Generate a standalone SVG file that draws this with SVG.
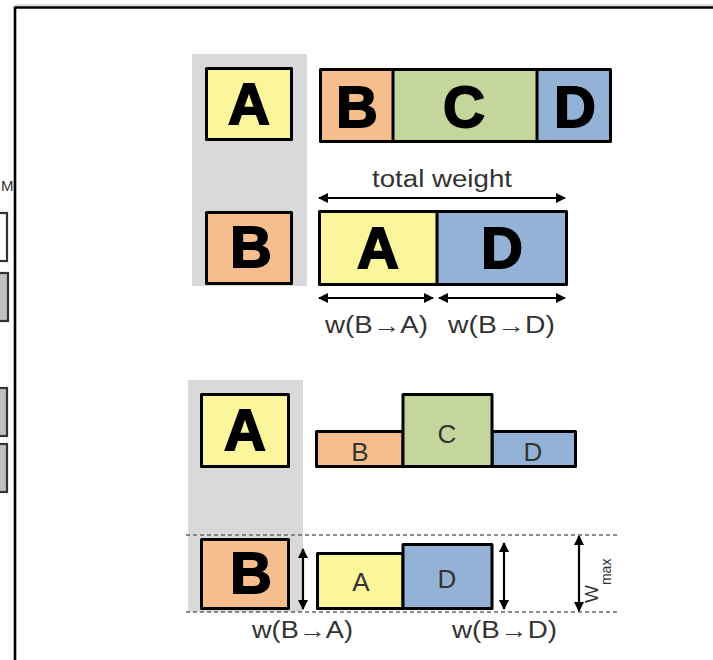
<svg xmlns="http://www.w3.org/2000/svg" width="713" height="660" viewBox="0 0 713 660">
<style>
.box{stroke:#000;stroke-width:3;stroke-linejoin:round}
.y{fill:#fbf59b}.o{fill:#f6be8d}.g{fill:#c4d69c}.b{fill:#93b2d6}
.big{font-family:"Liberation Sans",Arial,sans-serif;font-weight:bold;font-size:58px;text-anchor:middle;fill:#000;stroke:#000;stroke-width:1.8}
.sm{font-family:"Liberation Sans",Arial,sans-serif;font-size:26px;text-anchor:middle;fill:#333}
.lbl{font-family:"Liberation Sans",Arial,sans-serif;font-size:23px;fill:#333}
.arr{stroke:#000;stroke-width:2.2;fill:none;marker-start:url(#ah);marker-end:url(#ah)}
.dash{stroke:#666;stroke-width:1.6;stroke-dasharray:4 3;fill:none}
.gray{fill:#d9d9d9}
</style>
<defs>
<marker id="ah" viewBox="0 0 10 10" refX="9" refY="5" markerWidth="11" markerHeight="10" markerUnits="userSpaceOnUse" orient="auto-start-reverse">
<path d="M0,0 L10,5 L0,10 Z" fill="#000"/>
</marker>
</defs>
<rect width="713" height="660" fill="#fff"/>
<g id="frame">
<line x1="15" y1="5" x2="713" y2="5" stroke="#ddd" stroke-width="2"/>
<line x1="15" y1="7.5" x2="713" y2="7.5" stroke="#000" stroke-width="2.6"/>
<line x1="15" y1="6.5" x2="15" y2="660" stroke="#000" stroke-width="2.6"/>
</g>
<g id="left-partial">
<text x="1" y="191" font-family="Liberation Sans,Arial,sans-serif" font-size="15" fill="#333">M</text>
<rect x="-10" y="213" width="17" height="48" fill="#fff" stroke="#333" stroke-width="2.2"/>
<rect x="-10" y="273" width="18" height="48" fill="#c0c0c0" stroke="#333" stroke-width="2.2"/>
<rect x="-10" y="388" width="17" height="48" fill="#c0c0c0" stroke="#333" stroke-width="2.2"/>
<rect x="-10" y="444" width="17" height="48" fill="#c0c0c0" stroke="#333" stroke-width="2.2"/>
</g>
<rect class="gray" x="192" y="54" width="115" height="232"/>
<rect class="gray" x="188" y="380" width="115" height="232"/>
<g id="top-A">
<rect class="box y" x="206.5" y="68.5" width="85" height="71"/>
<text class="big" x="249" y="124">A</text>
</g>
<g id="top-B">
<rect class="box o" x="206.5" y="212.5" width="85" height="71"/>
<text class="big" x="251" y="267">B</text>
</g>
<g id="bar-BCD">
<rect class="o" x="320.5" y="69.5" width="72.5" height="72"/>
<rect class="g" x="393" y="69.5" width="144" height="72"/>
<rect class="b" x="537" y="69.5" width="73.5" height="72"/>
<rect class="box" x="320.5" y="69.5" width="290" height="72" fill="none"/>
<line x1="393" y1="69.5" x2="393" y2="141.5" stroke="#000" stroke-width="3"/>
<line x1="537" y1="69.5" x2="537" y2="141.5" stroke="#000" stroke-width="3"/>
<text class="big" x="357" y="127">B</text>
<text class="big" x="464" y="127">C</text>
<text class="big" x="575" y="127">D</text>
</g>
<g id="bar-AD">
<rect class="y" x="319.5" y="211.5" width="117.5" height="73"/>
<rect class="b" x="437" y="211.5" width="129.5" height="73"/>
<rect class="box" x="319.5" y="211.5" width="247" height="73" fill="none"/>
<line x1="437" y1="211.5" x2="437" y2="284.5" stroke="#000" stroke-width="3"/>
<text class="big" x="378" y="268">A</text>
<text class="big" x="502" y="268">D</text>
</g>
<g id="bot-A">
<rect class="box y" x="201.5" y="394.5" width="87" height="72"/>
<text class="big" x="245" y="450">A</text>
</g>
<g id="bot-B">
<rect class="box o" x="201.5" y="539.5" width="87" height="69"/>
<text class="big" x="251" y="593">B</text>
</g>
<g id="bars-row3">
<rect class="box o" x="316.5" y="431.5" width="86.5" height="35"/>
<rect class="box b" x="492" y="431.5" width="83.5" height="35"/>
<rect class="box g" x="403" y="394.5" width="89" height="72"/>
<text class="sm" x="360" y="461">B</text>
<text class="sm" x="447" y="443">C</text>
<text class="sm" x="533" y="461">D</text>
</g>
<g id="bars-row4">
<rect class="box y" x="317.5" y="553.5" width="85.5" height="55"/>
<rect class="box b" x="403" y="544.5" width="89" height="64"/>
<text class="sm" x="361" y="591">A</text>
<text class="sm" x="447" y="588">D</text>
</g>
<g id="connectors">
<line class="arr" x1="319" y1="198" x2="565" y2="198"/>
<line class="arr" x1="319" y1="298" x2="433" y2="298"/>
<line class="arr" x1="439" y1="298" x2="565" y2="298"/>
<line class="dash" x1="186" y1="535" x2="620" y2="535"/>
<line class="dash" x1="186" y1="612" x2="620" y2="612"/>
<line class="arr" x1="303" y1="549" x2="303" y2="609"/>
<line class="arr" x1="504" y1="543" x2="504" y2="609"/>
<line class="arr" x1="579" y1="536" x2="579" y2="611"/>
</g>
<g id="labels">
<text class="lbl" x="372" y="187" textLength="140" lengthAdjust="spacingAndGlyphs">total weight</text>
<text class="lbl" x="325" y="333" textLength="103" lengthAdjust="spacingAndGlyphs">w(B→A)</text>
<text class="lbl" x="448" y="333" textLength="107" lengthAdjust="spacingAndGlyphs">w(B→D)</text>
<text class="lbl" x="252" y="638" textLength="101" lengthAdjust="spacingAndGlyphs">w(B→A)</text>
<text class="lbl" x="452" y="638" textLength="105" lengthAdjust="spacingAndGlyphs">w(B→D)</text>
<g transform="translate(598,603) rotate(-90)">
<text font-family="Liberation Sans,Arial,sans-serif" font-size="19" fill="#333">W<tspan font-size="14" dy="13">max</tspan></text>
</g>
</g>
</svg>
